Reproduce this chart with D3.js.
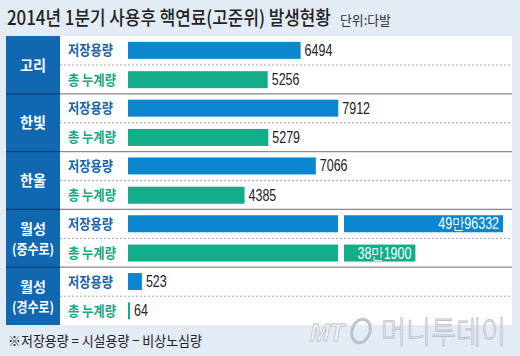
<!DOCTYPE html>
<html><head><meta charset="utf-8">
<script src="https://cdn.jsdelivr.net/npm/d3@7"></script>
<style>
html,body{margin:0;padding:0;background:#e3ebf5;}
svg{display:block;}
</style></head>
<body>
<script>
const plants = [["고리"],["한빛"],["한울"],["월성","(중수로)"],["월성","(경수로)"]];
const seriesNames = ["저장용량","총 누계량"];
const storage = [6494, 7912, 7066, 499632, 523];
const accumulated = [5256, 5279, 4385, 381900, 64];
const storageLabels = ["6494","7912","7066","49만96332","523"];
const accumLabels = ["5256","5279","4385","38만1900","64"];
const titleText = "2014년 1분기 사용후 핵연료(고준위) 발생현황";
const unitText = "단위:다발";
const noteText = "※저장용량 = 시설용량 − 비상노심량";

const W = 520, H = 356;
const KR = "'Noto Sans CJK KR','Noto Sans',sans-serif";
const NUM = "'Liberation Sans Narrow','Liberation Sans',Arial,sans-serif";
const colBlue = "#0a87cf", colGreen = "#12ad8a", colSide = "#1168b0";
const txtBlue = "#1763a8", txtGreen = "#17a583";

const svg = d3.select("body").append("svg").attr("width", W).attr("height", H);
svg.append("rect").attr("width", W).attr("height", H).attr("fill", "#e3ebf5");

// horizontally condense a text to a given width by scaling about its anchor point
function fit(sel, w){
  const nx = +sel.attr("x"), ny = +sel.attr("y");
  const nat = sel.node().getComputedTextLength();
  sel.attr("x", 0).attr("y", 0).attr("transform", `translate(${nx},${ny}) scale(${w / nat},1)`);
  return sel;
}
function narrow(sel){ const w = sel.node().getComputedTextLength(); return fit(sel, w * 0.78); }

// title
fit(svg.append("text").attr("x", 7).attr("y", 25).attr("font-family", KR).attr("font-weight", 500)
  .attr("font-size", 19.5).attr("fill", "#222").text(titleText), 324);
fit(svg.append("text").attr("x", 340).attr("y", 25).attr("font-family", KR)
  .attr("font-size", 13).attr("fill", "#333").text(unitText), 51);

// panel layout
const panelL = 6, panelR = 512, panelT = 36, sideR = 60;
const groupH = 58;
const y = d3.scaleBand().domain(d3.range(plants.length)).range([panelT, panelT + groupH * plants.length - 1]).padding(0);
const ySub = d3.scaleBand().domain([0,1]).range([0, groupH]).paddingInner(0.42).paddingOuter(0.2);

// x scales (broken axis)
const x = d3.scaleLinear().domain([0, 10000]).range([128, 393.8]);
const breakVal = 7900, breakThreshold = 20000;
const xHigh = d3.scaleLinear().domain([286000, 500000]).range([344, 503.3]);

svg.append("rect").attr("x", panelL).attr("y", panelT).attr("width", panelR - panelL)
  .attr("height", groupH * plants.length - 1).attr("fill", "#fff");
svg.append("rect").attr("x", panelL).attr("y", panelT).attr("width", sideR - panelL)
  .attr("height", groupH * plants.length - 1).attr("fill", colSide);

const g = svg.selectAll("g.grp").data(plants).join("g").attr("class", "grp")
  .attr("transform", (d,i) => `translate(0,${y(i)})`);

// separators
g.filter((d,i) => i > 0).append("line").attr("x1", panelL).attr("x2", sideR).attr("y1", 0).attr("y2", 0)
  .attr("stroke", "#0b3f72").attr("stroke-width", 1.2);
g.filter((d,i) => i > 0).append("line").attr("x1", sideR).attr("x2", panelR).attr("y1", 0).attr("y2", 0)
  .attr("stroke", "#8a8a8a").attr("stroke-width", 1.2);
g.append("line").attr("x1", sideR).attr("x2", panelR).attr("y1", groupH/2).attr("y2", groupH/2)
  .attr("stroke", "#8a8a8a").attr("stroke-width", 0.8).attr("stroke-dasharray", "2,2");

// plant names
g.each(function(d){
  const sel = d3.select(this);
  const n = d.length;
  d.forEach((line, j) => {
    const t = sel.append("text").attr("x", 33).attr("text-anchor", "middle")
      .attr("y", groupH/2 + (n > 1 ? 1 : 0) + (j - (n-1)/2) * (n > 1 ? 20 : 0) + (n > 1 ? 5 : 5.5))
      .attr("font-family", KR).attr("font-weight", 700).attr("font-size", n > 1 ? 13.5 : 15)
      .attr("fill", "#fff").text(line);
    fit(t, line.length > 2 ? 42 : 26);
  });
});

// series rows
const series = [
  {name: seriesNames[0], vals: storage, labels: storageLabels, fill: colBlue, txt: txtBlue, lw: 45},
  {name: seriesNames[1], vals: accumulated, labels: accumLabels, fill: colGreen, txt: txtGreen, lw: 48}
];
series.forEach((s, k) => {
  const by = ySub(k), bh = ySub.bandwidth();
  g.append("text").attr("x", 68).attr("y", by + bh/2 + 5)
    .attr("font-family", KR).attr("font-weight", 700).attr("font-size", 14).attr("fill", s.txt)
    .text(s.name).each(function(){ fit(d3.select(this), s.lw); });
  g.each(function(d, i){
    const sel = d3.select(this);
    const v = s.vals[i];
    if (v > breakThreshold) {
      sel.append("rect").attr("x", x(0)).attr("y", by).attr("width", x(breakVal) - x(0)).attr("height", bh).attr("fill", s.fill);
      sel.append("rect").attr("x", xHigh.range()[0]).attr("y", by).attr("width", xHigh(v) - xHigh.range()[0]).attr("height", bh).attr("fill", s.fill);
      narrow(sel.append("text").attr("x", xHigh(v) - 4).attr("y", by + bh/2 + 5.5).attr("text-anchor", "end")
        .attr("font-family", NUM).attr("font-size", 16).attr("fill", "#fff").text(s.labels[i]));
    } else {
      const w = Math.max(2, x(v) - x(0));
      sel.append("rect").attr("x", x(0)).attr("y", by).attr("width", w).attr("height", bh).attr("fill", s.fill);
      narrow(sel.append("text").attr("x", x(0) + w + 4).attr("y", by + bh/2 + 5.5)
        .attr("font-family", NUM).attr("font-size", 16).attr("fill", "#222").text(s.labels[i]));
    }
  });
});

// footnote
fit(svg.append("text").attr("x", 8).attr("y", 346).attr("font-family", KR).attr("font-size", 14)
  .attr("fill", "#222").text(noteText), 194);

// watermark
const wm = svg.append("g").attr("opacity", 0.85);
fit(wm.append("text").attr("x", 310).attr("y", 341).attr("font-family", "'Liberation Sans',sans-serif")
  .attr("font-style", "italic").attr("font-weight", 700).attr("font-size", 24).attr("fill", "#f4f7fb")
  .attr("stroke", "#b5bcc6").attr("stroke-width", 0.8).text("MT"), 34);
wm.append("ellipse").attr("cx", 0).attr("cy", 0).attr("rx", 9).attr("ry", 12).attr("fill", "none")
  .attr("stroke", "#b5bcc6").attr("stroke-width", 3).attr("transform", "translate(361,331) rotate(20)");
fit(wm.append("text").attr("x", 381).attr("y", 343).attr("font-family", KR).attr("font-weight", 300)
  .attr("font-size", 31).attr("fill", "#f4f7fb").attr("stroke", "#b5bcc6").attr("stroke-width", 0.9).text("머니투데이"), 125);
</script>
</body></html>
